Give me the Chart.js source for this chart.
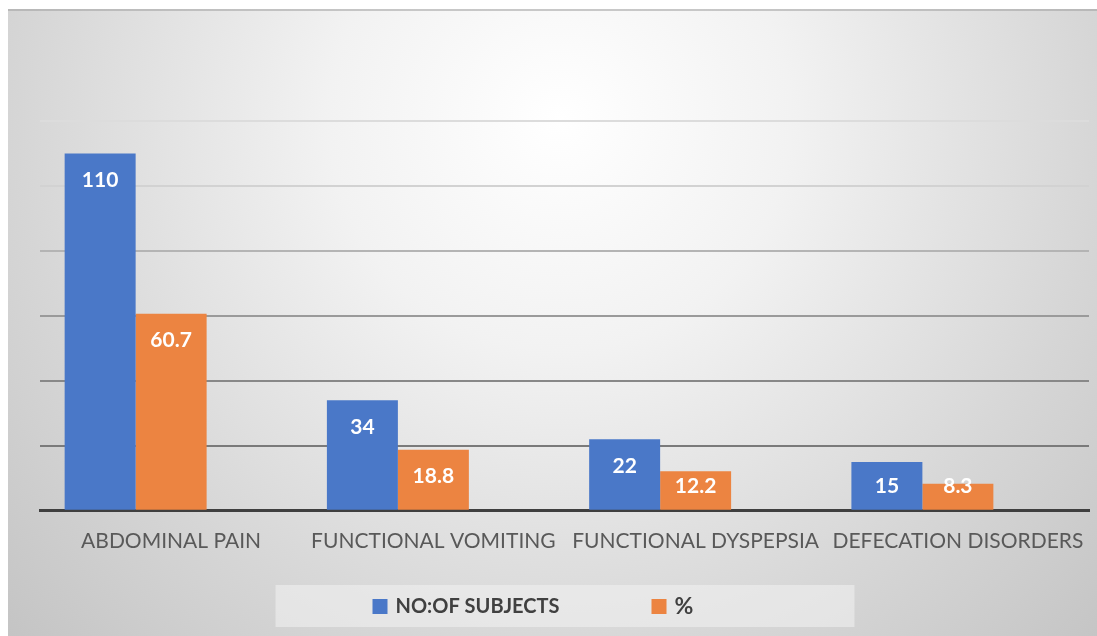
<!DOCTYPE html>
<html>
<head>
<meta charset="utf-8">
<script src="https://cdn.jsdelivr.net/npm/chart.js@4"></script>
<style>
  html, body { margin: 0; padding: 0; background: #fff; }
  #wrap { position: absolute; left: 8px; top: 9px; width: 1089px; height: 627px; }
</style>
</head>
<body>
<div id="wrap"><canvas id="chart" width="1089" height="627"></canvas></div>
<script>
// data
const categories = ['ABDOMINAL PAIN', 'FUNCTIONAL VOMITING', 'FUNCTIONAL DYSPEPSIA', 'DEFECATION DISORDERS'];
const subjects = [110, 34, 22, 15];
const percent = [60.7, 18.8, 12.2, 8.3];
const emptySeries = [null, null, null, null]; // Excel had a third, empty column series
const seriesNames = ['NO:OF SUBJECTS', '%'];

const BLUE = '#4a78c8';
const ORANGE = '#ec8441';

// gridlines get darker towards the axis
const gridColors = { 20: '#7a7a7a', 40: '#888888', 60: '#9a9a9a', 80: '#b4b4b4', 100: '#d2d2d2', 120: '#dcdcdc' };

const backgroundPlugin = {
  id: 'bg',
  beforeDraw(chart) {
    const c = chart.ctx;
    const w = chart.width, h = chart.height;
    c.save();
    const g = c.createRadialGradient(552, 110, 0, 552, 110, 770);
    g.addColorStop(0, '#ffffff');
    g.addColorStop(0.3, '#f2f2f2');
    g.addColorStop(0.7, '#d6d6d6');
    g.addColorStop(1, '#c3c3c3');
    c.fillStyle = g;
    c.fillRect(0, 0, w, h);
    c.fillStyle = 'rgba(160,160,160,0.55)';
    c.fillRect(0, 0, w, 2);
    c.restore();
  }
};

const labelPlugin = {
  id: 'barLabels',
  afterDatasetsDraw(chart) {
    const c = chart.ctx;
    const base = chart.chartArea.bottom;
    c.save();
    c.font = 'bold 21px Lato';
    c.fillStyle = '#ffffff';
    c.textAlign = 'center';
    c.textBaseline = 'middle';
    chart.data.datasets.forEach((ds, i) => {
      if (ds.hideLabel) return;
      chart.getDatasetMeta(i).data.forEach((bar, j) => {
        const v = ds.data[j];
        if (v == null) return;
        const y = Math.min(bar.y + 27, base - 25);
        c.fillText(String(v), bar.x, y);
      });
    });
    c.restore();
  }
};

const legendPlugin = {
  id: 'boxLegend',
  afterDraw(chart) {
    const c = chart.ctx;
    const cx = (chart.chartArea.left + chart.chartArea.right) / 2;
    const top = chart.height - 51;
    c.save();
    c.fillStyle = 'rgba(240,240,240,0.6)';
    c.fillRect(cx - 289, top, 579, 42);
    c.textBaseline = 'middle';
    const items = [
      { x: cx - 192, size: 20, color: chart.data.datasets[0].backgroundColor, text: chart.data.datasets[0].label },
      { x: cx + 87, size: 23, color: chart.data.datasets[1].backgroundColor, text: chart.data.datasets[1].label }
    ];
    items.forEach(it => {
      c.fillStyle = it.color;
      c.fillRect(it.x, top + 14, 15, 15);
      c.fillStyle = '#404040';
      c.font = 'bold ' + it.size + 'px Lato';
      c.fillText(it.text, it.x + 23, top + 22);
    });
    c.restore();
  }
};

new Chart(document.getElementById('chart'), {
  type: 'bar',
  data: {
    labels: categories,
    datasets: [
      { label: seriesNames[0], data: subjects, backgroundColor: BLUE },
      { label: seriesNames[1], data: percent, backgroundColor: ORANGE },
      { label: '', data: emptySeries, backgroundColor: 'rgba(0,0,0,0)', hideLabel: true }
    ]
  },
  options: {
    responsive: false,
    animation: false,
    layout: { padding: { top: 112, left: 32, right: 8, bottom: 72 } },
    datasets: { bar: { categoryPercentage: 0.812, barPercentage: 1, borderWidth: 0 } },
    plugins: { legend: { display: false }, tooltip: { enabled: false } },
    scales: {
      x: {
        grid: { display: false },
        border: { display: true, color: '#3f3f3f', width: 3 },
        ticks: {
          color: '#595959',
          font: { family: 'Lato', size: 21 },
          padding: 10,
          maxRotation: 0,
          autoSkip: false
        }
      },
      y: {
        min: 0,
        max: 120,
        ticks: { display: false, stepSize: 20 },
        border: { display: false },
        grid: {
          drawTicks: false,
          lineWidth: 2,
          color: ctx => gridColors[ctx.tick.value] || '#7a7a7a'
        }
      }
    }
  },
  plugins: [backgroundPlugin, labelPlugin, legendPlugin]
});
</script>
</body>
</html>
